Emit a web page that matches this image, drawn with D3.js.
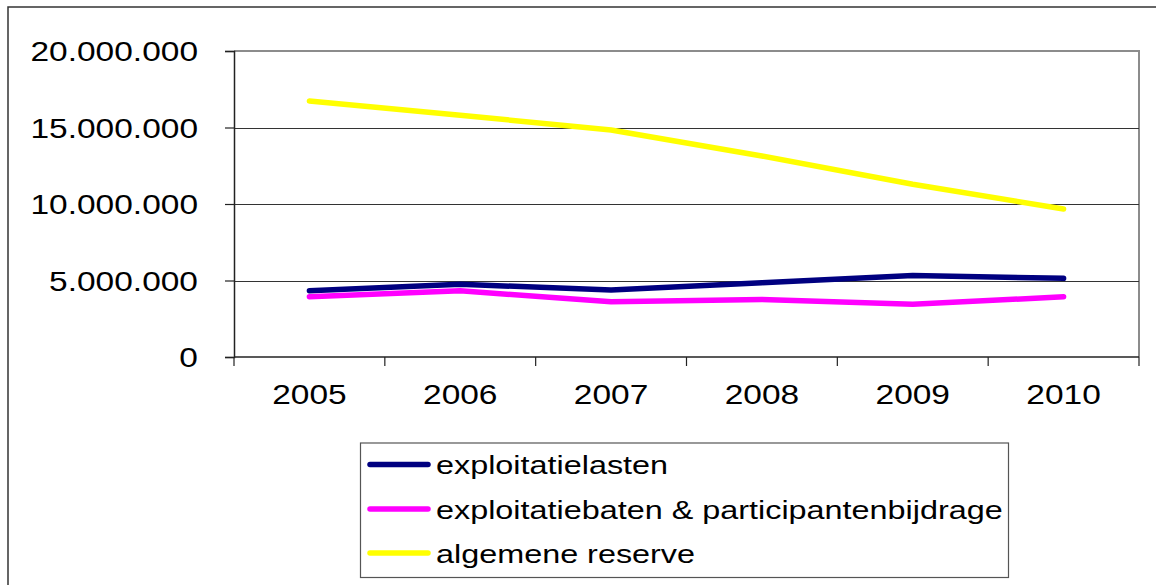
<!DOCTYPE html>
<html>
<head>
<meta charset="utf-8">
<script src="https://cdn.jsdelivr.net/npm/d3@7"></script>
<style>
  html, body { margin: 0; padding: 0; background: #fff; }
  svg { display: block; font-family: "Liberation Sans", Arial, sans-serif; }
</style>
</head>
<body>
<svg id="chart" width="1156" height="585"></svg>
<script>
const years = ["2005", "2006", "2007", "2008", "2009", "2010"];
const exploitatielasten = [4330000, 4750000, 4380000, 4860000, 5320000, 5140000];
const exploitatiebaten = [3940000, 4330000, 3610000, 3760000, 3440000, 3940000];
const algemeneReserve = [16730000, 15800000, 14840000, 13140000, 11290000, 9670000];
const yTicks = [0, 5000000, 10000000, 15000000, 20000000];
const seriesNames = ["exploitatielasten", "exploitatiebaten & participantenbijdrage", "algemene reserve"];
const seriesColors = ["#000080", "#ff00ff", "#ffff00"];

const series = [exploitatielasten, exploitatiebaten, algemeneReserve].map((vals, i) => ({
  name: seriesNames[i], color: seriesColors[i], values: vals
}));

const svg = d3.select("#chart");
const plot = { left: 234, right: 1139, top: 51, bottom: 357 };

// outer border (right & bottom fall outside the picture)
svg.append("rect").attr("x", 8).attr("y", 7).attr("width", 1160).attr("height", 600)
  .attr("fill", "#fff").attr("stroke", "#333").attr("stroke-width", 1.5);

const x = d3.scaleBand().domain(years).range([plot.left, plot.right]).padding(0);
const y = d3.scaleLinear().domain([0, 20000000]).range([plot.bottom, plot.top]);

const loc = d3.formatLocale({ decimal: ",", thousands: ".", grouping: [3], currency: ["", ""] });
const fmt = loc.format(",");

// plot border (top / right, gray)
svg.append("path")
  .attr("d", `M${plot.left},${plot.top}H${plot.right}V${plot.bottom}`)
  .attr("fill", "none").attr("stroke", "#8c8c8c").attr("stroke-width", 2);

// gridlines
svg.append("g").selectAll("line").data(yTicks.filter(d => d > 0 && d < 20000000)).join("line")
  .attr("x1", plot.left).attr("x2", plot.right)
  .attr("y1", d => Math.round(y(d)) + 0.5).attr("y2", d => Math.round(y(d)) + 0.5)
  .attr("stroke", "#333").attr("stroke-width", 1);

// y axis
const gy = svg.append("g").attr("transform", `translate(${plot.left},0)`)
  .call(d3.axisLeft(y).tickValues(yTicks).tickFormat(fmt).tickSize(9).tickPadding(0));
gy.select(".domain").attr("stroke", "#222").attr("stroke-width", 1.5);
gy.selectAll(".tick line").attr("stroke", "#222").attr("stroke-width", 1.2);
gy.selectAll(".tick text")
  .attr("x", 0).attr("dy", "0.36em")
  .attr("transform", "translate(-36,0) scale(1.24,1)")
  .attr("font-size", 27).attr("fill", "#000")
  .attr("font-family", "Liberation Sans, Arial, sans-serif");

// x axis with ticks at category boundaries
const gx = svg.append("g").attr("transform", `translate(0,${plot.bottom})`);
gx.append("line").attr("x1", plot.left).attr("x2", plot.right).attr("y1", 0).attr("y2", 0)
  .attr("stroke", "#222").attr("stroke-width", 1.5);
const bounds = years.map(d => x(d)).concat([plot.right]);
gx.selectAll("line.tk").data(bounds).join("line").attr("class", "tk")
  .attr("x1", d => d).attr("x2", d => d).attr("y1", 0).attr("y2", 9)
  .attr("stroke", "#222").attr("stroke-width", 1.2);
gx.selectAll("text").data(years).join("text")
  .attr("transform", d => `translate(${x(d) + x.bandwidth() / 2},${404 - plot.bottom}) scale(1.24,1)`)
  .attr("text-anchor", "middle").attr("font-size", 27).attr("fill", "#000")
  .text(d => d);

// lines
const line = d3.line()
  .x((d, i) => x(years[i]) + x.bandwidth() / 2)
  .y(d => y(d));
svg.append("g").selectAll("path").data(series).join("path")
  .attr("d", s => line(s.values))
  .attr("fill", "none").attr("stroke", s => s.color)
  .attr("stroke-width", 5.5).attr("stroke-linecap", "round").attr("stroke-linejoin", "round");

// legend
const lg = svg.append("g");
lg.append("rect").attr("x", 360.5).attr("y", 443).attr("width", 648).attr("height", 134.5)
  .attr("fill", "#fff").attr("stroke", "#555").attr("stroke-width", 1.2);
const rowY = [464.5, 509, 553];
const items = lg.selectAll("g.item").data(series).join("g").attr("class", "item")
  .attr("transform", (d, i) => `translate(0,${rowY[i]})`);
items.append("line").attr("x1", 370).attr("x2", 428).attr("y1", 0).attr("y2", 0)
  .attr("stroke", d => d.color).attr("stroke-width", 5.5).attr("stroke-linecap", "round");
items.append("text")
  .attr("transform", "translate(436,9.5) scale(1.27,1)")
  .attr("font-size", 25.5).attr("fill", "#000")
  .text(d => d.name);
</script>
</body>
</html>
